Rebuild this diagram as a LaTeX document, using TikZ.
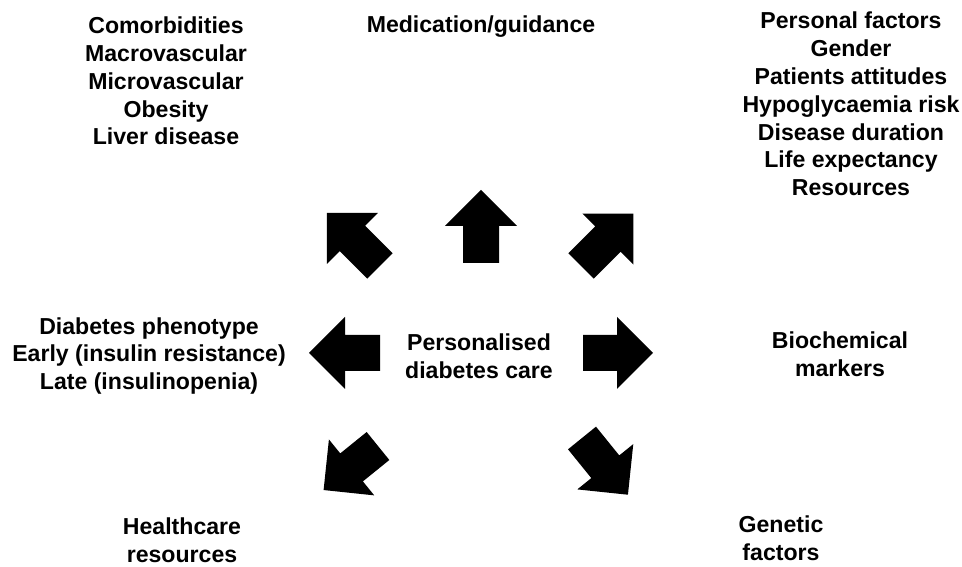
\documentclass[tikz,border=0pt]{standalone}
\usepackage{fontspec}
\setmainfont{Liberation Sans}
\usepackage{tikz}
\usetikzlibrary{positioning,calc}

\newcommand{\lblfont}{\fontsize{23.1}{27.8}\selectfont\bfseries}
\tikzset{lbl/.style={align=center, font=\lblfont, inner sep=0pt}}

\begin{document}
\begin{tikzpicture}[x=1pt,y=1pt]
    \useasboundingbox (0,0) rectangle (962,567);
    % Centre
    \node[lbl] (care) at (479,211) {Personalised\\diabetes care};
    % Block arrows: tail x / tail y / angle / length
    \foreach \x/\y/\a/\l in {481/304/90/73, 380/301/135/75, 581/301/45/74,
                             380/214/180/71, 583/214/0/70,
                             378/121/219/70, 582/129/-51/73}
        \fill[shift={(\x,\y)}, rotate=\a] (0,-18) -- (\l-36,-18) -- (\l-36,-36)
            -- (\l,0) -- (\l-36,36) -- (\l-36,18) -- (0,18) -- cycle;
    % Outer labels
    \node[lbl] (como) at (166,486) {Comorbidities\\Macrovascular\\Microvascular\\Obesity\\Liver disease};
    \node[lbl] (medi) at (481,540) {Medication/guidance};
    \node[lbl] (pers) at (851,463) {Personal factors\\Gender\\Patients attitudes\\Hypoglycaemia risk\\Disease duration\\Life expectancy\\Resources};
    \node[lbl] (phen) at (149,211) {Diabetes phenotype\\Early (insulin resistance)\\Late (insulinopenia)};
    \node[lbl] (bioc) at (840,213) {Biochemical\\markers};
    \node[lbl] (hlth) at (182,27) {Healthcare\\resources};
    \node[lbl] (gene) at (781,29) {Genetic\\factors};
\end{tikzpicture}
\end{document}
